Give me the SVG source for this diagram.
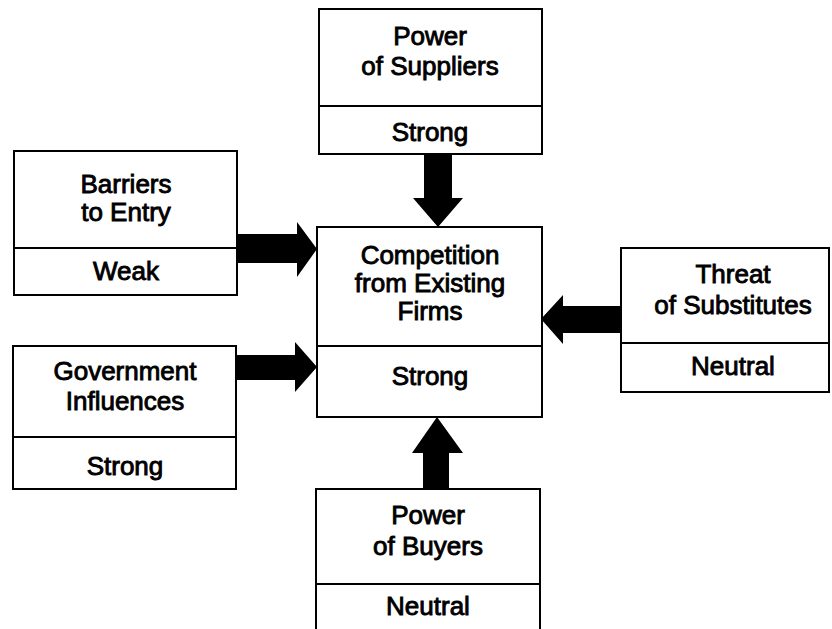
<svg xmlns="http://www.w3.org/2000/svg" width="832" height="629" viewBox="0 0 832 629">
<style>
.box{fill:#ffffff;stroke:#000000;stroke-width:2}
.div{stroke:#000000;stroke-width:2}
.t{font-family:"Liberation Sans",Arial,sans-serif;font-size:26px;fill:#000000;stroke:#000000;stroke-width:0.9;text-anchor:middle}
.arr{fill:#000000}
</style>
<rect width="832" height="629" fill="#ffffff"/>
<g id="connectors">
<polygon class="arr" points="424,154 452,154 452,198 463,198 438,227 413,198 424,198"/>
<polygon class="arr" points="237,234 297,234 297,222 317,249 297,277 297,263 237,263"/>
<polygon class="arr" points="236,355 295,355 295,342 317,367 295,392 295,380 236,380"/>
<polygon class="arr" points="621,306 563,306 563,295 541,319 563,344 563,333 621,333"/>
<polygon class="arr" points="423,489 423,453 412,453 437,417 463,453 449,453 449,489"/>
</g>
<g id="suppliers">
<rect class="box" x="319" y="9" width="223" height="145"/>
<line class="div" x1="319" y1="106" x2="542" y2="106"/>
<text class="t" x="430" y="45">Power</text>
<text class="t" x="430" y="75">of Suppliers</text>
<text class="t" x="430" y="141">Strong</text>
</g>
<g id="barriers">
<rect class="box" x="14" y="151" width="223" height="144"/>
<line class="div" x1="14" y1="248" x2="237" y2="248"/>
<text class="t" x="126" y="193">Barriers</text>
<text class="t" x="126" y="221">to Entry</text>
<text class="t" x="126" y="280">Weak</text>
</g>
<g id="competition">
<rect class="box" x="317" y="227" width="225" height="190"/>
<line class="div" x1="317" y1="346" x2="542" y2="346"/>
<text class="t" x="430" y="264">Competition</text>
<text class="t" x="430" y="292">from Existing</text>
<text class="t" x="430" y="320">Firms</text>
<text class="t" x="430" y="385">Strong</text>
</g>
<g id="government">
<rect class="box" x="13" y="346" width="223" height="143"/>
<line class="div" x1="13" y1="437" x2="236" y2="437"/>
<text class="t" x="125" y="380">Government</text>
<text class="t" x="125" y="410">Influences</text>
<text class="t" x="125" y="475">Strong</text>
</g>
<g id="substitutes">
<rect class="box" x="621" y="248" width="208" height="144"/>
<line class="div" x1="621" y1="343" x2="829" y2="343"/>
<text class="t" x="733" y="283">Threat</text>
<text class="t" x="733" y="314">of Substitutes</text>
<text class="t" x="733" y="375">Neutral</text>
</g>
<g id="buyers">
<rect class="box" x="316" y="489" width="224" height="145"/>
<line class="div" x1="316" y1="584" x2="540" y2="584"/>
<text class="t" x="428" y="524">Power</text>
<text class="t" x="428" y="555">of Buyers</text>
<text class="t" x="428" y="615">Neutral</text>
</g>
</svg>
